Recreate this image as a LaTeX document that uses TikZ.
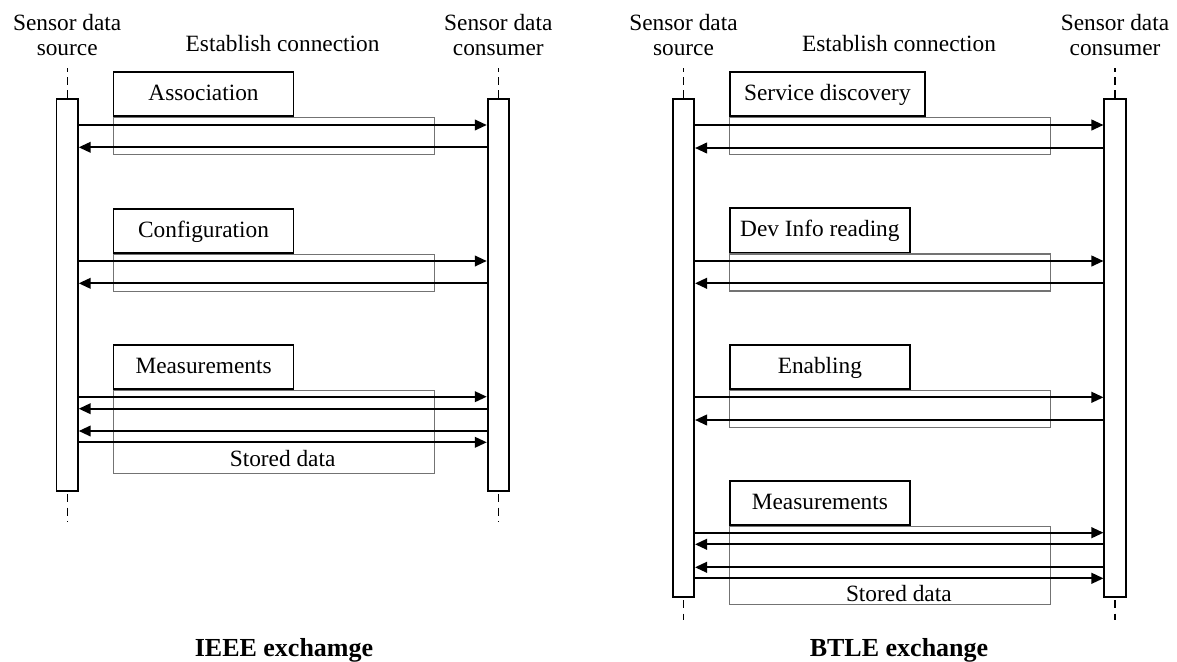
\documentclass[tikz,border=0pt]{standalone}
\usepackage{fontspec}
\setmainfont{Liberation Serif}
\usetikzlibrary{arrows.meta}

\tikzset{
  lane/.style={draw, line width=1.3pt, fill=white, minimum width=16pt, inner sep=0pt},
  life/.style={line width=1pt, dash pattern=on 6pt off 4pt},
  phasebox/.style={draw, line width=1.3pt, anchor=north west, inner sep=0pt,
    minimum width=135pt, minimum height=33.3pt, text height=13pt, text depth=4pt},
  seqframe/.style={draw=black!55, line width=0.8pt, anchor=north west, inner sep=0pt,
    minimum width=241pt},
  msg/.style={line width=1.4pt, -{Triangle[length=9pt,width=8pt]}},
  tag/.style={inner sep=0pt, align=center},
}

\begin{document}
\begin{tikzpicture}[x=0.75pt, y=-0.75pt, font=\fontsize{17.5}{18.8}\selectfont]
\useasboundingbox (0,0) rectangle (1177,661);

% IEEE exchange
\node[lane, minimum height=293.8pt] (srcL) at (67.2,295) {};
\node[lane, minimum height=293.8pt] (conL) at (498.3,295) {};
\draw[life] (srcL.north) -- ++(0,-30);
\draw[life] (conL.north) -- ++(0,-30);
\draw[life] ([yshift=-2pt]srcL.south) -- ++(0,28);
\draw[life] ([yshift=-2pt]conL.south) -- ++(0,28);
\node[tag, anchor=north] (srcLname) at (67.2,14) {Sensor data\\source};
\node[tag, anchor=north] (conLname) at (498.3,14) {Sensor data\\consumer};
\node[tag, anchor=base] (estL) at (282.6,51) {Establish connection};

\node[phasebox] (assoc) at (112.7,71) {Association};
\node[seqframe, minimum height=27.75pt] (assocF) at (assoc.south west) {};
\node[phasebox] (config) at (112.7,208) {Configuration};
\node[seqframe, minimum height=27.75pt] (configF) at (config.south west) {};
\node[phasebox] (measL) at (112.7,344) {Measurements};
\node[seqframe, minimum height=61.8pt] (measLF) at (measL.south west) {};
\node[tag, anchor=base] (storedL) at (282.6,466) {Stored data};

\foreach \y in {125,261,396.7,442.3}
  \draw[msg] (srcL.east |- 0,\y) -- (conL.west |- 0,\y);
\foreach \y in {147.3,283.3,408.7,431}
  \draw[msg] (conL.west |- 0,\y) -- (srcL.east |- 0,\y);

\node[tag, anchor=base, font=\fontsize{19.5}{21}\selectfont\bfseries] (capL) at (284,656) {IEEE exchamge};

% BTLE exchange
\node[lane, minimum height=373.3pt] (srcR) at (683.5,348) {};
\node[lane, minimum height=373.3pt] (conR) at (1115,348) {};
\draw[life] (srcR.north) -- ++(0,-30);
\draw[life] (conR.north) -- ++(0,-30);
\draw[life] ([yshift=-2pt]srcR.south) -- ++(0,20);
\draw[life] ([yshift=-2pt]conR.south) -- ++(0,20);
\node[tag, anchor=north] (srcRname) at (683.5,14) {Sensor data\\source};
\node[tag, anchor=north] (conRname) at (1115,14) {Sensor data\\consumer};
\node[tag, anchor=base] (estR) at (899,51) {Establish connection};

\node[phasebox, minimum width=146.3pt] (disc) at (729,71) {Service discovery};
\node[seqframe, minimum height=27.75pt] (discF) at (disc.south west) {};
\node[phasebox] (devinfo) at (729,207.3) {Dev Info reading};
\node[seqframe, minimum height=27.75pt] (devinfoF) at (devinfo.south west) {};
\node[phasebox] (enab) at (729,344) {Enabling};
\node[seqframe, minimum height=27.75pt] (enabF) at (enab.south west) {};
\node[phasebox] (measR) at (729,480) {Measurements};
\node[seqframe, minimum height=58.7pt] (measRF) at (measR.south west) {};
\node[tag, anchor=base] (storedR) at (898.8,601) {Stored data};

\foreach \y in {125,261,397.3,532.7,578.3}
  \draw[msg] (srcR.east |- 0,\y) -- (conR.west |- 0,\y);
\foreach \y in {148,283.3,420,544.3,567.3}
  \draw[msg] (conR.west |- 0,\y) -- (srcR.east |- 0,\y);

\node[tag, anchor=base, font=\fontsize{19.5}{21}\selectfont\bfseries] (capR) at (899,656) {BTLE exchange};
\end{tikzpicture}
\end{document}
